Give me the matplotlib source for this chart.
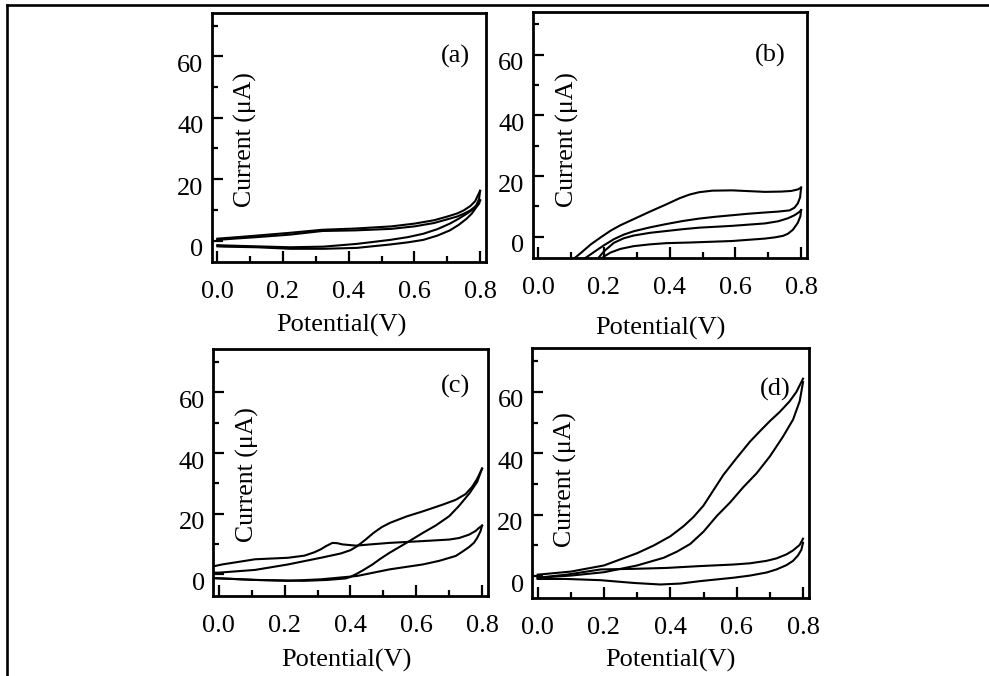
import matplotlib
matplotlib.use('Agg')
import matplotlib.pyplot as plt
from matplotlib.lines import Line2D
from matplotlib.ticker import MultipleLocator
import matplotlib.transforms as mtransforms

plt.rcParams['font.family'] = ['Liberation Serif', 'DejaVu Serif']

W, H = 989, 676

# ---------------- data (Potential in V, Current in uA) ----------------
# panel (a)
a_fwd1_x = [0.0, 0.05, 0.12, 0.22, 0.32, 0.42, 0.53, 0.60, 0.66, 0.70, 0.73, 0.75, 0.77, 0.785, 0.80]
a_fwd1_y = [0.6, 1.0, 1.6, 2.5, 3.5, 3.9, 4.6, 5.5, 6.6, 7.8, 8.8, 9.8, 11.2, 12.8, 16.2]
a_rev1_x = [0.80, 0.797, 0.789, 0.775, 0.759, 0.735, 0.708, 0.67, 0.627, 0.58, 0.526, 0.425, 0.323, 0.222, 0.12, 0.02, 0.0]
a_rev1_y = [16.2, 13.6, 11.5, 9.9, 8.7, 7.1, 5.5, 3.7, 2.2, 1.1, 0.2, -1.1, -2.0, -2.2, -1.9, -1.6, -1.5]
a_fwd2_x = [0.0, 0.05, 0.12, 0.22, 0.32, 0.42, 0.53, 0.60, 0.66, 0.70, 0.73, 0.75, 0.77, 0.785, 0.80]
a_fwd2_y = [0.2, 0.6, 1.1, 1.9, 3.1, 3.3, 3.8, 4.6, 5.7, 6.9, 7.8, 8.7, 9.8, 11.0, 13.1]
a_rev2_x = [0.80, 0.797, 0.789, 0.775, 0.759, 0.735, 0.708, 0.67, 0.627, 0.58, 0.526, 0.425, 0.323, 0.222, 0.12, 0.02, 0.0]
a_rev2_y = [13.1, 12.0, 10.9, 8.8, 7.1, 5.1, 3.3, 1.6, 0.2, -0.6, -1.3, -2.4, -2.7, -2.7, -2.2, -2.0, -1.9]

# panel (b)
b_fwd1_x = [0.10, 0.13, 0.16, 0.19, 0.22, 0.25, 0.29, 0.34, 0.39, 0.43, 0.46, 0.49, 0.53, 0.59, 0.65, 0.69, 0.74, 0.77, 0.79, 0.80]
b_fwd1_y = [-8.0, -5.3, -2.5, -0.2, 2.0, 3.8, 5.8, 8.3, 10.7, 12.7, 13.9, 14.7, 15.2, 15.3, 15.0, 14.8, 14.9, 15.1, 15.6, 16.2]
b_rev1_x = [0.80, 0.797, 0.79, 0.78, 0.765, 0.73, 0.69, 0.64, 0.59, 0.54, 0.49, 0.44, 0.39, 0.34, 0.29, 0.26, 0.23, 0.20, 0.17, 0.13]
b_rev1_y = [16.2, 13.0, 11.0, 9.6, 8.7, 8.3, 8.0, 7.6, 7.1, 6.6, 6.0, 5.2, 4.2, 3.1, 1.8, 0.7, -0.8, -2.8, -5.0, -8.0]
b_fwd2_x = [0.175, 0.20, 0.23, 0.26, 0.29, 0.34, 0.39, 0.44, 0.49, 0.59, 0.69, 0.73, 0.76, 0.78, 0.795, 0.80]
b_fwd2_y = [-8.0, -4.8, -2.0, -0.5, 0.4, 1.3, 1.9, 2.5, 3.0, 3.6, 4.4, 5.1, 6.1, 7.1, 8.2, 8.8]
b_rev2_x = [0.80, 0.798, 0.79, 0.775, 0.76, 0.745, 0.72, 0.69, 0.59, 0.46, 0.39, 0.34, 0.29, 0.25, 0.22, 0.20, 0.185]
b_rev2_y = [8.8, 6.8, 4.6, 2.3, 1.0, 0.3, -0.2, -0.6, -1.4, -1.9, -2.1, -2.5, -3.1, -4.0, -5.2, -6.5, -8.0]

# panel (c)
c_fwd1_x = [-0.02, 0.0, 0.11, 0.21, 0.31, 0.37, 0.40, 0.42, 0.445, 0.47, 0.495, 0.52, 0.57, 0.62, 0.68, 0.72, 0.75, 0.77, 0.785, 0.80]
c_fwd1_y = [0.6, 0.6, 1.5, 3.3, 5.5, 6.9, 8.0, 9.3, 11.4, 13.7, 15.6, 17.0, 19.1, 20.8, 23.0, 24.6, 26.5, 28.9, 31.5, 34.9]
c_rev1_x = [0.80, 0.785, 0.762, 0.73, 0.70, 0.66, 0.62, 0.57, 0.518, 0.49, 0.467, 0.44, 0.417, 0.40, 0.386, 0.33, 0.26, 0.11, 0.0, -0.02]
c_rev1_y = [34.9, 30.5, 26.8, 22.6, 19.2, 16.2, 13.7, 10.4, 7.1, 5.1, 3.3, 1.5, 0.1, -0.8, -1.3, -1.8, -2.1, -1.8, -1.3, -1.2]
c_fwd2_x = [-0.02, 0.01, 0.11, 0.21, 0.26, 0.29, 0.31, 0.325, 0.345, 0.36, 0.376, 0.417, 0.46, 0.518, 0.62, 0.70, 0.73, 0.76, 0.78, 0.79, 0.80]
c_fwd2_y = [2.6, 3.3, 5.0, 5.5, 6.2, 7.3, 8.3, 9.3, 10.4, 10.3, 9.9, 9.5, 9.9, 10.4, 11.0, 11.5, 12.0, 13.1, 14.3, 15.3, 16.1]
c_rev2_x = [0.80, 0.795, 0.785, 0.775, 0.76, 0.74, 0.72, 0.67, 0.62, 0.57, 0.52, 0.47, 0.42, 0.31, 0.21, 0.11, 0.01, -0.02]
c_rev2_y = [16.1, 14.2, 12.0, 10.4, 9.0, 7.5, 6.1, 4.5, 3.3, 2.5, 1.7, 0.6, -0.5, -1.6, -2.1, -1.8, -1.3, -1.2]

# panel (d)
d_fwd1_x = [0.0, 0.1, 0.2, 0.3, 0.35, 0.40, 0.44, 0.47, 0.50, 0.53, 0.56, 0.60, 0.64, 0.67, 0.70, 0.73, 0.76, 0.78, 0.80]
d_fwd1_y = [0.5, 1.5, 3.5, 7.5, 10.0, 13.0, 16.3, 19.3, 23.0, 28.0, 33.0, 38.5, 43.8, 47.2, 50.5, 53.5, 57.0, 60.0, 64.3]
d_rev1_x = [0.80, 0.79, 0.77, 0.74, 0.70, 0.66, 0.62, 0.58, 0.54, 0.50, 0.46, 0.42, 0.38, 0.30, 0.20, 0.10, 0.0]
d_rev1_y = [63.2, 57.0, 51.0, 45.5, 39.0, 33.5, 29.0, 24.0, 19.6, 14.5, 10.5, 8.0, 6.0, 3.5, 1.3, 0.2, -0.5]
d_fwd2_x = [0.0, 0.087, 0.19, 0.29, 0.39, 0.49, 0.59, 0.64, 0.69, 0.72, 0.75, 0.77, 0.79, 0.80]
d_fwd2_y = [-0.5, 0.5, 2.2, 2.4, 2.7, 3.3, 3.8, 4.2, 5.0, 5.8, 7.1, 8.4, 10.2, 12.2]
d_rev2_x = [0.80, 0.795, 0.785, 0.77, 0.75, 0.72, 0.69, 0.64, 0.59, 0.49, 0.43, 0.37, 0.29, 0.19, 0.087, 0.0]
d_rev2_y = [10.9, 8.6, 6.8, 5.0, 3.6, 2.2, 1.2, 0.2, -0.5, -1.6, -2.4, -2.7, -2.2, -1.3, -0.9, -0.9]

panel_labels = ['(a)', '(b)', '(c)', '(d)']
x_ticks = [0.0, 0.2, 0.4, 0.6, 0.8]
x_ticklabels = ['0.0', '0.2', '0.4', '0.6', '0.8']
y_ticks = [0, 20, 40, 60]
y_ticklabels = ['0', '20', '40', '60']
x_label = 'Potential(V)'
y_label = 'Current (\u03bcA)'

curves = [
    [(a_fwd1_x, a_fwd1_y), (a_rev1_x, a_rev1_y), (a_fwd2_x, a_fwd2_y), (a_rev2_x, a_rev2_y)],
    [(b_fwd1_x, b_fwd1_y), (b_rev1_x, b_rev1_y), (b_fwd2_x, b_fwd2_y), (b_rev2_x, b_rev2_y)],
    [(c_fwd1_x, c_fwd1_y), (c_rev1_x, c_rev1_y), (c_fwd2_x, c_fwd2_y), (c_rev2_x, c_rev2_y)],
    [(d_fwd1_x, d_fwd1_y), (d_rev1_x, d_rev1_y), (d_fwd2_x, d_fwd2_y), (d_rev2_x, d_rev2_y)],
]

# ---------------- layout (pixels) ----------------
boxes = [  # left, top, right, bottom
    (211.7, 12.7, 486.0, 262.0),
    (532.7, 11.7, 807.0, 258.0),
    (213.3, 349.3, 488.0, 595.7),
    (532.0, 348.3, 809.0, 597.7),
]
xlabel_pos = [(0.474, -0.255), (0.464, -0.285), (0.486, -0.262), (0.498, -0.25)]
ylabel_pos = [(0.124, 0.493), (0.125, 0.479), (0.126, 0.49), (0.122, 0.472)]
plabel_pos = [(0.887, 0.823), (0.865, 0.821), (0.88, 0.848), (0.877, 0.833)]

fig = plt.figure(figsize=(W / 100, H / 100), dpi=100)

for i, (l, t, r, b) in enumerate(boxes):
    ax = fig.add_axes([l / W, 1 - b / H, (r - l) / W, (b - t) / H])
    for xs, ys in curves[i]:
        ax.plot(xs, ys, color='black', lw=1.5, solid_joinstyle='round')
    ax.set_xlim(-0.017, 0.818)
    ax.set_ylim(-7.0, 74.2)
    ax.set_xticks(x_ticks)
    ax.set_xticklabels(x_ticklabels)
    ax.set_yticks(y_ticks)
    ax.set_yticklabels(y_ticklabels)
    ax.xaxis.set_minor_locator(MultipleLocator(0.1))
    ax.yaxis.set_minor_locator(MultipleLocator(10))
    ax.tick_params(which='both', direction='in', top=False, right=False,
                   width=1.6, labelsize=19, color='black')
    ax.tick_params(which='major', length=8)
    ax.tick_params(which='minor', length=4)
    ax.tick_params(axis='x', pad=14)
    ax.tick_params(axis='y', pad=6)
    for sp in ax.spines.values():
        sp.set_linewidth(2.0)
    off = mtransforms.ScaledTranslation(0, -0.07, fig.dpi_scale_trans)
    for lab in ax.get_yticklabels():
        lab.set_transform(lab.get_transform() + off)
    ax.set_xlabel(x_label, fontsize=19, va='center')
    ax.xaxis.set_label_coords(*xlabel_pos[i])
    ax.set_ylabel(y_label, fontsize=18.5, va='center')
    ax.yaxis.set_label_coords(*ylabel_pos[i])
    ax.text(plabel_pos[i][0], plabel_pos[i][1], panel_labels[i], transform=ax.transAxes,
            ha='center', va='center', fontsize=19)

# document frame lines
fig.add_artist(Line2D([6.7 / W, 6.7 / W], [0, 1 - 5.3 / H], transform=fig.transFigure,
                      color='black', lw=1.9, solid_capstyle='projecting'))
fig.add_artist(Line2D([6.7 / W, 1], [1 - 5.3 / H, 1 - 5.3 / H], transform=fig.transFigure,
                      color='black', lw=1.9, solid_capstyle='projecting'))

fig.savefig('out.png', dpi=100)
